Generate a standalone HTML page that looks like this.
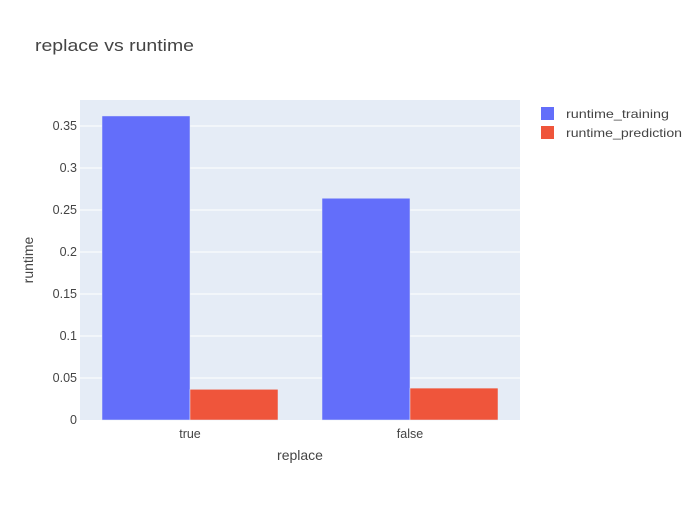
<!DOCTYPE html>
<html><head><meta charset="utf-8"><style>
body{margin:0;background:#fff;font-family:"Liberation Sans",sans-serif;}
svg text{font-family:"Liberation Sans",sans-serif;}
</style></head><body>
<svg id="chart" width="700" height="500">
<rect width="700" height="500" fill="#fff"/>
<rect x="80" y="100" width="440" height="320" fill="#e5ecf6"/>
<g id="grid"></g><g id="bars"></g><g id="ticks"></g>
<text x="35" y="51" font-size="17" fill="#444" textLength="159" lengthAdjust="spacingAndGlyphs">replace vs runtime</text>
<text x="300" y="460" font-size="14" fill="#444" text-anchor="middle">replace</text>
<text x="33" y="260" font-size="14" fill="#444" text-anchor="middle" transform="rotate(-90 33 260)">runtime</text>
<g id="legend"></g>
</svg>
<script>
const categories=["true","false"];
const seriesNames=["runtime_training","runtime_prediction"];
const training=[0.362,0.264];
const prediction=[0.0365,0.038];
const yTicks=[0,0.05,0.1,0.15,0.2,0.25,0.3,0.35];
const yTickLabels=["0","0.05","0.1","0.15","0.2","0.25","0.3","0.35"];
const colors=["#636efa","#ef553b"];
const legendWidths=[103,116];
const NS="http://www.w3.org/2000/svg";
const x0=80,w=440,y0=420,h=320,yMax=0.381;
const y=v=>y0-v/yMax*h;
const band=w/categories.length;
function mk(t,a,p){const e=document.createElementNS(NS,t);for(const k in a)e.setAttribute(k,a[k]);p.appendChild(e);return e;}
const grid=document.getElementById('grid'),ticks=document.getElementById('ticks'),bars=document.getElementById('bars'),leg=document.getElementById('legend');
yTicks.forEach((v,i)=>{
  if(v>0){const l=mk('line',{x1:x0,x2:x0+w,y1:y(v),y2:y(v),stroke:'#fff','stroke-width':1},grid);
  
  }
  const t=mk('text',{x:77,y:y(v)+4,'font-size':12.5,fill:'#444','text-anchor':'end'},ticks);t.textContent=yTickLabels[i];
  
  
});
const series=[training,prediction];
categories.forEach((c,i)=>{
  const cx=x0+band*(i+0.5);
  const gw=band*0.8,bw=gw/series.length;
  series.forEach((s,j)=>{
    const bx=cx-gw/2+j*bw;
    const r=mk('rect',{x:bx,y:y(s[i]),width:bw,height:y0-y(s[i]),fill:colors[j],stroke:'#e5ecf6','stroke-width':0.5},bars);
    
    
  });
  const t=mk('text',{x:cx,y:438,'font-size':12.5,fill:'#444','text-anchor':'middle'},ticks);t.textContent=c;
  
  
});
seriesNames.forEach((n,j)=>{
  const g=mk('g',{},leg);
  
  
  const ly=113+j*19;
  mk('rect',{x:541,y:ly-6,width:13,height:13,fill:colors[j]},g);
  const t=mk('text',{x:566,y:ly+5,'font-size':12,fill:'#444',textLength:legendWidths[j],lengthAdjust:'spacingAndGlyphs'},g);t.textContent=n;
});
</script>
</body></html>
